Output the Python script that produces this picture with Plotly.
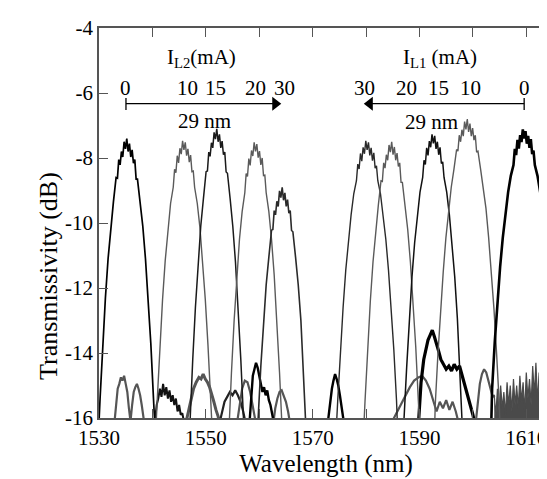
import plotly.graph_objects as go

# ---------------- data ----------------
# wavelength offset grid (nm) relative to each peak centre
offsets = [-7.0, -6.0, -5.5, -5.0, -4.5, -4.0, -3.5, -3.0, -2.5, -2.0, -1.75, -1.5, -1.25,
           -1.0, -0.75, -0.5, -0.25, 0.0, 0.25, 0.5, 0.75, 1.0, 1.25, 1.5, 1.75, 2.0,
           2.5, 3.0, 3.5, 4.0, 4.5, 5.0, 5.5, 6.0, 7.0]

peak_names = ["IL2=0", "IL2=10", "IL2=15", "IL2=20", "IL2=30",
              "IL1=30", "IL1=20", "IL1=15", "IL1=10", "IL1=0"]
peak_centres = [1535.2, 1545.9, 1552.05, 1559.3, 1564.3,
                1580.2, 1584.8, 1592.6, 1598.95, 1609.6]

peak_L2_0 = [-22, -19.1, -17.2, -15.4, -13.7, -12.3, -11.1, -10.1, -9.35, -8.6, -8.62, -8.05, -8.21,
             -7.8, -7.97, -7.5, -7.72, -7.4, -7.8, -7.56, -7.97, -7.75, -8.16, -8.05, -8.65, -8.65,
             -9.35, -10.1, -11.1, -12.3, -13.7, -15.4, -17.2, -19.1, -22]
peak_L2_10 = [-22, -19.15, -17.25, -15.45, -13.75, -12.35, -11.15, -10.15, -9.4, -8.9, -8.35, -8.45, -7.93,
              -8.15, -7.7, -7.88, -7.47, -7.75, -7.52, -7.93, -7.72, -8.13, -7.91, -8.42, -8.4, -8.9,
              -9.4, -10.15, -11.15, -12.35, -13.75, -15.45, -17.25, -19.15, -22]
peak_L2_15 = [-22, -20.0, -18.0, -16.0, -14.2, -12.6, -11.2, -10.1, -9.25, -8.42, -8.4, -7.82, -7.95,
              -7.53, -7.69, -7.21, -7.42, -7.1, -7.5, -7.27, -7.69, -7.48, -7.9, -7.82, -8.43, -8.47,
              -9.25, -10.1, -11.2, -12.6, -14.2, -16.0, -18.0, -20.0, -22]
peak_L2_20 = [-22, -20.4, -18.4, -16.4, -14.6, -13.0, -11.6, -10.5, -9.65, -9.07, -8.48, -8.57, -8.02,
              -8.23, -7.77, -7.94, -7.52, -7.8, -7.57, -7.99, -7.79, -8.21, -8.0, -8.54, -8.53, -9.07,
              -9.65, -10.5, -11.6, -13.0, -14.6, -16.4, -18.4, -20.4, -22]
peak_L2_30 = [-22, -21.8, -19.8, -17.8, -16.0, -14.4, -13.0, -11.9, -11.05, -10.22, -10.2, -9.62, -9.75,
              -9.33, -9.49, -9.01, -9.22, -8.9, -9.3, -9.07, -9.49, -9.28, -9.7, -9.62, -10.23, -10.27,
              -11.05, -11.9, -13.0, -14.4, -16.0, -17.8, -19.8, -21.8, -22]
peak_L1_30 = [-22, -17.05, -15.45, -13.9, -12.6, -11.45, -10.5, -9.75, -9.1, -8.7, -8.19, -8.34, -7.86,
              -8.1, -7.67, -7.87, -7.47, -7.75, -7.52, -7.92, -7.69, -8.08, -7.84, -8.31, -8.24, -8.7,
              -9.1, -9.75, -10.5, -11.45, -12.6, -13.9, -15.45, -17.05, -22]
peak_L1_20 = [-22, -19.2, -17.3, -15.5, -13.8, -12.4, -11.2, -10.2, -9.45, -8.7, -8.72, -8.15, -8.31,
              -7.9, -8.07, -7.6, -7.82, -7.5, -7.9, -7.66, -8.07, -7.85, -8.26, -8.15, -8.75, -8.75,
              -9.45, -10.2, -11.2, -12.4, -13.8, -15.5, -17.3, -19.2, -22]
peak_L1_15 = [-22, -17.85, -16.05, -14.45, -12.95, -11.65, -10.6, -9.75, -9.05, -8.6, -8.07, -8.2, -7.69,
              -7.92, -7.48, -7.67, -7.27, -7.55, -7.32, -7.72, -7.5, -7.9, -7.67, -8.17, -8.12, -8.6,
              -9.05, -9.75, -10.6, -11.65, -12.95, -14.45, -16.05, -17.85, -22]
peak_L1_10 = [-22, -15.6, -14.05, -12.65, -11.5, -10.45, -9.55, -8.9, -8.35, -7.74, -7.79, -7.3, -7.5,
              -7.13, -7.33, -6.88, -7.12, -6.8, -7.2, -6.94, -7.33, -7.08, -7.45, -7.3, -7.82, -7.79,
              -8.35, -8.9, -9.55, -10.45, -11.5, -12.65, -14.05, -15.6, -22]
peak_L1_0 = [-22, -15.1, -13.65, -12.45, -11.35, -10.45, -9.7, -9.05, -8.55, -8.22, -7.72, -7.91, -7.44,
             -7.71, -7.3, -7.51, -7.12, -7.4, -7.17, -7.56, -7.32, -7.69, -7.42, -7.88, -7.77, -8.22,
             -8.55, -9.05, -9.7, -10.45, -11.35, -12.45, -13.65, -15.1, -22]

peak_values = [peak_L2_0, peak_L2_10, peak_L2_15, peak_L2_20, peak_L2_30,
               peak_L1_30, peak_L1_20, peak_L1_15, peak_L1_10, peak_L1_0]

# background (side-mode / floor) noise bumps
n1_wl = [1532.8, 1533.2, 1533.5, 1533.8, 1534.1, 1534.4, 1534.7, 1535.0, 1535.3, 1535.6, 1535.9,
         1536.2, 1536.5, 1536.8, 1537.1, 1537.4, 1537.7, 1538.0, 1538.3, 1538.6]
n1_db = [-16.3, -15.6, -15.1, -14.95, -14.75, -14.85, -14.7, -14.95, -15.2, -15.7, -16.1,
         -15.6, -15.2, -15.05, -14.95, -15.1, -15.3, -15.6, -15.9, -16.3]
n2_wl = [1540.4, 1540.8, 1541.1, 1541.4, 1541.7, 1542.0, 1542.3, 1542.6, 1542.9, 1543.2, 1543.5,
         1543.8, 1544.1, 1544.4, 1544.7, 1545.0, 1545.3, 1545.6, 1546.0]
n2_db = [-16.2, -15.6, -15.4, -15.1, -15.35, -14.95, -15.3, -15.05, -15.4, -15.15, -15.5,
         -15.3, -15.6, -15.4, -15.8, -15.6, -15.9, -15.85, -16.2]
n3_wl = [1546.2, 1546.7, 1547.2, 1547.7, 1548.2, 1548.7, 1549.1, 1549.5, 1549.9, 1550.3, 1550.7,
         1551.1, 1551.5, 1551.9, 1552.3, 1552.8]
n3_db = [-16.2, -15.8, -15.4, -15.1, -14.9, -14.75, -14.8, -14.65, -14.8, -14.9, -15.05,
         -15.25, -15.5, -15.75, -15.95, -16.3]
n4_wl = [1552.5, 1553.0, 1553.5, 1554.0, 1554.5, 1555.0, 1555.5, 1556.0, 1556.5, 1557.0, 1557.5]
n4_db = [-16.2, -15.8, -15.5, -15.35, -15.2, -15.3, -15.15, -15.3, -15.5, -15.8, -16.2]
n5_wl = [1555.8, 1556.3, 1556.8, 1557.3, 1557.8, 1558.3, 1558.8, 1559.3]
n5_db = [-16.2, -15.6, -15.1, -14.85, -14.9, -15.2, -15.6, -16.1]
n6_wl = [1562.6, 1563.0, 1563.4, 1563.8, 1564.2, 1564.6, 1565.0, 1565.4, 1565.8]
n6_db = [-16.2, -15.7, -15.4, -15.2, -15.15, -15.3, -15.5, -15.8, -16.2]
n7_wl = [1558.2, 1558.5, 1558.8, 1559.1, 1559.4, 1559.7, 1560.0, 1560.3, 1560.6, 1560.9, 1561.2,
         1561.5, 1561.8, 1562.1, 1562.4, 1562.8]
n7_db = [-16.1, -15.2, -14.7, -14.5, -14.3, -14.45, -14.7, -14.9, -15.2, -15.05, -15.3,
         -15.15, -15.45, -15.6, -15.85, -16.2]
n8_wl = [1572.8, 1573.2, 1573.6, 1573.9, 1574.2, 1574.5, 1574.8, 1575.1, 1575.5, 1575.9]
n8_db = [-16.2, -15.6, -15.1, -14.85, -14.65, -14.8, -15.0, -15.3, -15.7, -16.2]
n9_wl = [1584.6, 1585.5, 1586.4, 1587.3, 1588.2, 1589.0, 1589.8, 1590.5, 1591.2, 1591.9, 1592.6,
         1593.2, 1593.8, 1594.4, 1595.0, 1595.6, 1596.2, 1596.8, 1597.4]
n9_db = [-16.2, -15.9, -15.6, -15.3, -15.05, -14.85, -14.75, -14.7, -14.85, -15.1, -15.45,
         -15.8, -15.5, -15.7, -15.45, -15.75, -15.5, -15.8, -16.2]
n10_wl = [1589.8, 1590.3, 1590.8, 1591.2, 1591.6, 1592.0, 1592.4, 1592.8, 1593.2, 1593.6, 1594.0,
          1594.5, 1595.0, 1595.5, 1596.0, 1596.5, 1597.0, 1597.5, 1598.0, 1598.5, 1599.0, 1599.5,
          1600.0, 1600.4]
n10_db = [-16.2, -14.9, -14.2, -13.85, -13.6, -13.45, -13.3, -13.5, -13.7, -13.95, -14.2,
          -14.35, -14.5, -14.4, -14.55, -14.35, -14.5, -14.4, -14.7, -14.95, -15.3, -15.6,
          -15.9, -16.2]
n11_wl = [1600.5, 1600.9, 1601.3, 1601.7, 1602.1, 1602.5, 1602.9, 1603.3, 1603.7, 1604.1]
n11_db = [-16.2, -15.5, -14.95, -14.65, -14.5, -14.6, -14.85, -15.1, -15.35, -15.3]
n12_wl = [1604.0, 1604.3, 1604.6, 1604.9, 1605.2, 1605.5, 1605.8, 1606.1, 1606.4, 1606.7, 1607.0,
          1607.3, 1607.6, 1607.9, 1608.2, 1608.5, 1608.8, 1609.1, 1609.4, 1609.7, 1610.0, 1610.3,
          1610.6, 1610.9, 1611.2, 1611.5, 1611.8, 1612.1, 1612.4, 1612.7, 1613.0, 1613.3, 1613.6,
          1613.9, 1614.2, 1614.5, 1614.8, 1615.0]
n12_db = [-15.3, -15.9, -15.1, -15.8, -15.0, -15.7, -15.2, -15.9, -14.9, -15.6, -15.0,
          -15.8, -14.8, -15.6, -15.0, -15.7, -14.7, -15.5, -14.9, -15.8, -14.6, -15.4,
          -14.8, -15.6, -14.4, -15.3, -14.3, -15.5, -14.6, -15.4, -14.4, -15.6, -14.7,
          -15.3, -14.5, -15.5, -14.3, -15.0]
floor_wl = [1604.0, 1615.0]
floor_db = [-16.0, -16.0]

y_tick_vals = [-16, -14, -12, -10, -8, -6, -4]
y_tick_text = ["-16", "-14", "-12", "-10", "-8", "-6", "-4"]

L2_currents = ["0", "10", "15", "20", "30"]
L2_label_wl = [1535.05, 1546.6, 1551.9, 1559.3, 1564.8]
L1_currents = ["30", "20", "15", "10", "0"]
L1_label_wl = [1579.7, 1587.6, 1593.6, 1599.5, 1609.6]

# tuning arrows: start wavelength (0 mA peak) and end wavelength (30 mA peak)
L2_arrow = [1535.05, 1564.0]
L1_arrow = [1609.6, 1579.7]
arrow_db = -6.33

# ---------------- styles ----------------
peak_colors = ["#000000", "#5a5a5a", "#1a1a1a", "#5a5a5a", "#2a2a2a",
               "#2a2a2a", "#5a5a5a", "#111111", "#5a5a5a", "#000000"]
peak_widths = [1.7, 1.4, 1.5, 1.4, 1.6, 1.4, 1.4, 1.5, 1.4, 2.6]
FONT = "Liberation Serif"

fig = go.Figure()

noise = [(n1_wl, n1_db, "#555555", 2.2), (n2_wl, n2_db, "#111111", 2.0),
         (n3_wl, n3_db, "#555555", 3.0), (n4_wl, n4_db, "#222222", 2.2),
         (n5_wl, n5_db, "#555555", 2.2), (n6_wl, n6_db, "#555555", 2.2),
         (n7_wl, n7_db, "#000000", 2.4), (n8_wl, n8_db, "#000000", 2.4),
         (n9_wl, n9_db, "#555555", 2.2), (n10_wl, n10_db, "#000000", 3.2),
         (n11_wl, n11_db, "#555555", 2.2)]
for wl, db, c, w in noise:
    fig.add_trace(go.Scatter(x=wl, y=db, mode="lines", line=dict(color=c, width=w),
                             showlegend=False, hoverinfo="skip"))
fig.add_trace(go.Scatter(x=floor_wl, y=floor_db, mode="lines", line=dict(width=0),
                         showlegend=False, hoverinfo="skip"))
fig.add_trace(go.Scatter(x=n12_wl, y=n12_db, mode="lines", fill="tonexty",
                         fillcolor="#4a4a4a", line=dict(color="#4a4a4a", width=1.2),
                         showlegend=False, hoverinfo="skip"))

for name, c0, vals, col, w in zip(peak_names, peak_centres, peak_values, peak_colors, peak_widths):
    fig.add_trace(go.Scatter(x=[c0 + o for o in offsets], y=vals, mode="lines", name=name,
                             line=dict(color=col, width=w), showlegend=False))

# arrow heads (filled triangles) at the 30 mA ends
fig.add_trace(go.Scatter(x=[L2_arrow[1] - 1.0, L1_arrow[1] + 1.0], y=[arrow_db, arrow_db],
                         mode="markers", showlegend=False, hoverinfo="skip",
                         marker=dict(symbol=["triangle-right", "triangle-left"], size=12,
                                     color="black", line=dict(width=0))))

annotations = []
tf = dict(family=FONT, size=21, color="black")
for t, x in zip(L2_currents, L2_label_wl):
    annotations.append(dict(x=x, y=-5.85, xref="x", yref="y", text=t, showarrow=False, font=tf))
for t, x in zip(L1_currents, L1_label_wl):
    annotations.append(dict(x=x, y=-5.85, xref="x", yref="y", text=t, showarrow=False, font=tf))
annotations += [
    dict(x=1549.1, y=-4.92, xref="x", yref="y", showarrow=False, font=tf,
         text="I<sub>L2</sub>(mA)"),
    dict(x=1593.9, y=-4.92, xref="x", yref="y", showarrow=False, font=tf,
         text="I<sub>L1</sub> (mA)"),
    dict(x=1549.8, y=-6.86, xref="x", yref="y", showarrow=False, font=tf, text="29 nm"),
    dict(x=1592.2, y=-6.9, xref="x", yref="y", showarrow=False, font=tf, text="29 nm"),
    dict(x=-0.148, y=0.365, xref="paper", yref="paper", showarrow=False, textangle=-90,
         text="Transmissivity (dB)", font=dict(family=FONT, size=26, color="black")),
]

shapes = [
    dict(type="line", xref="x", yref="y", x0=L2_arrow[0], x1=L2_arrow[1] - 1.0,
         y0=arrow_db, y1=arrow_db, line=dict(color="black", width=1.3)),
    dict(type="line", xref="x", yref="y", x0=L1_arrow[0], x1=L1_arrow[1] + 1.0,
         y0=arrow_db, y1=arrow_db, line=dict(color="black", width=1.3)),
    dict(type="line", xref="x", yref="y", x0=L2_arrow[0], x1=L2_arrow[0],
         y0=arrow_db + 0.18, y1=arrow_db - 0.19, line=dict(color="black", width=1.3)),
    dict(type="line", xref="x", yref="y", x0=L1_arrow[0], x1=L1_arrow[0],
         y0=arrow_db + 0.18, y1=arrow_db - 0.19, line=dict(color="black", width=1.3)),
]

axis_common = dict(showgrid=False, zeroline=False, showline=True, linecolor="#555555",
                   linewidth=1.5, ticks="inside", ticklen=9, tickwidth=1.3, tickcolor="#555555",
                   mirror="ticks", automargin=False,
                   tickfont=dict(family=FONT, size=21, color="black"))

fig.update_layout(
    width=547, height=479,
    margin=dict(l=91, r=2, t=20, b=69),
    plot_bgcolor="white", paper_bgcolor="white",
    xaxis=dict(range=[1530, 1615], tick0=1530, dtick=20,
               minor=dict(dtick=10, ticks="inside", ticklen=9, tickwidth=1.3, tickcolor="#555555"),
               title=dict(text="Wavelength (nm)", standoff=4,
                          font=dict(family=FONT, size=25, color="black")),
               **axis_common),
    yaxis=dict(range=[-16, -4], tickmode="array", tickvals=y_tick_vals,
               ticktext=y_tick_text, **axis_common),
    annotations=annotations,
    shapes=shapes,
)

fig.write_html("out.html")
